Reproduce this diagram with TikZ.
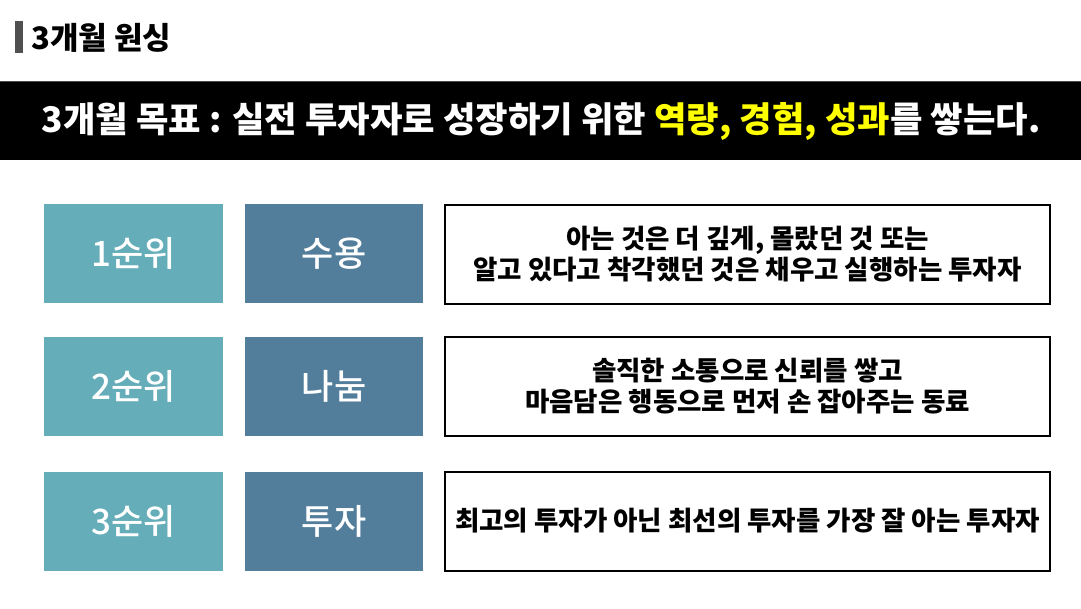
\documentclass[tikz,border=0pt]{standalone}
\usepackage{fontspec}
\setmainfont{Noto Sans CJK KR}
\newfontfamily\krmed{Noto Sans CJK KR Medium}
\definecolor{rankc}{HTML}{64ADB9}
\definecolor{keyc}{HTML}{527E9C}
\definecolor{barc}{HTML}{505050}
\definecolor{hiyel}{HTML}{FFFF00}
\tikzset{
  rankbox/.style={fill=rankc, draw=none, minimum width=179pt, minimum height=99pt, inner sep=0pt, text=white, font=\krmed\fontsize{35}{38}\selectfont},
  keybox/.style={fill=keyc, draw=none, minimum width=178pt, minimum height=99pt, inner sep=0pt, text=white, font=\krmed\fontsize{35}{38}\selectfont},
  descbox/.style={draw=black, line width=2pt, fill=white, minimum width=605pt, minimum height=99pt, inner sep=0pt, align=center, font=\bfseries\fontsize{26.5}{31}\selectfont},
}
\begin{document}
\begin{tikzpicture}[x=1pt,y=-1pt]
\useasboundingbox (0,0) rectangle (1081,608);
\fill[white] (0,0) rectangle (1081,608);
% heading
\fill[barc] (15,21) rectangle (23,53);
\node[anchor=west, inner sep=0pt, font=\bfseries\fontsize{31}{34}\selectfont] (head) at (31,38) {3개월 원싱};
% band
\fill[black] (0,81) rectangle (1081,160);
\draw[gray!60!black, line width=1pt] (0,81.5) -- (1081,81.5);
\node[inner sep=0pt, text=white, font=\bfseries\fontsize{35.3}{38}\selectfont] (goal) at (541,121) {3개월 목표 : 실전 투자자로 성장하기 위한 \textcolor{hiyel}{역량, 경험, 성과}를 쌓는다.};
% rows
\node[rankbox] (r1) at (133.5,253.5) {1순위};
\node[keybox] (k1) at (334,253.5) {수용};
\node[descbox] (d1) at (747.5,254) {아는 것은 더 깊게, 몰랐던 것 또는\\알고 있다고 착각했던 것은 채우고 실행하는 투자자};
\node[rankbox] (r2) at (133.5,386.5) {2순위};
\node[keybox] (k2) at (334,386.5) {나눔};
\node[descbox] (d2) at (747.5,386.5) {솔직한 소통으로 신뢰를 쌓고\\마음담은 행동으로 먼저 손 잡아주는 동료};
\node[rankbox] (r3) at (133.5,521) {3순위};
\node[keybox] (k3) at (334,521) {투자};
\node[descbox] (d3) at (747.5,521) {최고의 투자가 아닌 최선의 투자를 가장 잘 아는 투자자};
\end{tikzpicture}
\end{document}
